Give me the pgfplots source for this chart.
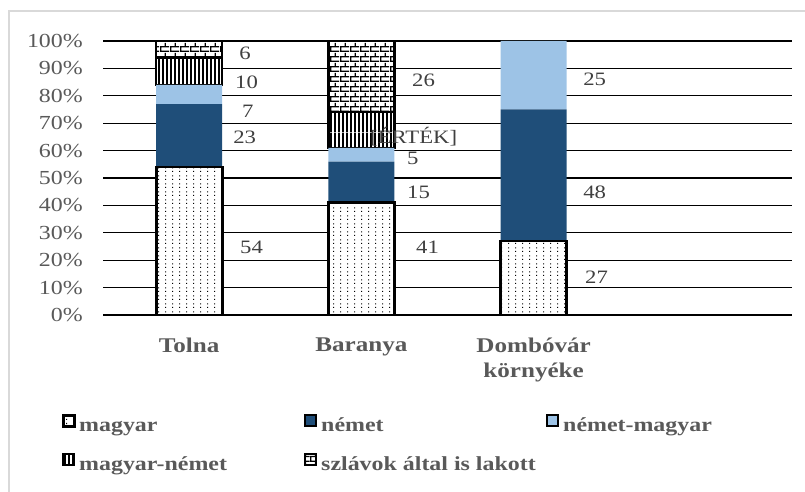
\documentclass[border=0pt]{standalone}
\usepackage{fontspec}
\setmainfont{Liberation Serif}[FakeStretch=1.2]
\usepackage{pgfplots}
\pgfplotsset{compat=1.18}
\usetikzlibrary{patterns}

\definecolor{nemet}{HTML}{1F4E79}
\definecolor{nemetmagyar}{HTML}{9DC3E6}
\definecolor{txtgray}{HTML}{595959}
\definecolor{lblgray}{HTML}{404040}
\definecolor{framegray}{HTML}{D9D9D9}

% sparse dots (magyar)
\pgfdeclarepatternformonly{mydots}{\pgfpointorigin}{\pgfpoint{6.6bp}{8bp}}{\pgfpoint{6.6bp}{8bp}}{%
  \pgfpathrectangle{\pgfpointorigin}{\pgfpoint{1.3bp}{1.3bp}}%
  \pgfpathrectangle{\pgfpoint{0bp}{4bp}}{\pgfpoint{1.3bp}{1.3bp}}\pgfusepath{fill}}
% thick vertical stripes (magyar-nemet)
\pgfdeclarepatternformonly{myvlines}{\pgfpointorigin}{\pgfpoint{4.3bp}{40bp}}{\pgfpoint{4.3bp}{40bp}}{%
  \pgfpathrectangle{\pgfpointorigin}{\pgfpoint{2.1bp}{40bp}}\pgfusepath{fill}}
% bricks (szlavok)
\pgfdeclarepatternformonly{mybricks}{\pgfpointorigin}{\pgfpoint{10bp}{10bp}}{\pgfpoint{10bp}{10bp}}{%
  \pgfpathrectangle{\pgfpointorigin}{\pgfpoint{10bp}{1.4bp}}%
  \pgfpathrectangle{\pgfpoint{0bp}{5bp}}{\pgfpoint{10bp}{1.4bp}}%
  \pgfpathrectangle{\pgfpointorigin}{\pgfpoint{1.4bp}{5bp}}%
  \pgfpathrectangle{\pgfpoint{5bp}{5bp}}{\pgfpoint{1.4bp}{5bp}}%
  \pgfusepath{fill}}

\begin{document}
\begin{tikzpicture}
\begin{axis}[
    at={(103bp,177bp)}, anchor=south west,
    scale only axis, width=689bp, height=274bp,
    ybar stacked, bar width=66bp,
    xmin=-0.5, xmax=3.5, ymin=0, ymax=100,
    xtick={0,1,2},
    xticklabels={Tolna, Baranya, {Dombóvár\\környéke}},
    xticklabel style={align=center, inner sep=0pt, anchor=north, yshift=-23bp,
        font=\fontsize{21}{25}\selectfont\bfseries, text=txtgray},
    ytick={0,10,...,100},
    yticklabel={\pgfmathprintnumber{\tick}\%},
    /pgf/number format/assume math mode=true,
    yticklabel style={anchor=east, inner sep=0pt, xshift=-20bp,
        font=\fontsize{20}{22}\selectfont, text=txtgray},
    major tick length=0pt, tick style={draw=none},
    axis line style={draw=none},
    ymajorgrids, grid style={black, line width=1.2bp},
    legend columns=3,
    legend cell align=left,
    legend image code/.code={\draw[#1, line width=2bp] (1bp,0bp) rectangle (12bp,11bp);},
    legend style={draw=none, fill=none, inner sep=0pt,
        at={(-0.0595,-0.361)}, anchor=north west, row sep=17bp,
        font=\fontsize{20}{25}\selectfont\bfseries, text=txtgray,
        nodes={inner sep=0pt, text height=15bp, text depth=5bp},
        /tikz/every odd column/.append style={column sep=4bp}},
]
\addplot[draw=black, line width=2.8bp, pattern=mydots, preaction={fill=white}]
    coordinates {(0,54) (1,41) (2,27)};
\addlegendentry{\makebox[225bp][l]{magyar}}
\addplot[draw=none, fill=nemet]
    coordinates {(0,23) (1,15) (2,48)};
\addlegendentry{\makebox[225bp][l]{német}}
\addplot[draw=none, fill=nemetmagyar]
    coordinates {(0,7) (1,5) (2,25)};
\addlegendentry{\makebox[225bp][l]{német-magyar}}
\addplot[draw=black, line width=2.5bp, pattern=myvlines, preaction={fill=white}]
    coordinates {(0,10) (1,13)};
\addlegendentry{\makebox[225bp][l]{magyar-német}}
\addplot[draw=black, line width=2.5bp, pattern=mybricks, preaction={fill=white}]
    coordinates {(0,6) (1,26)};
\addlegendentry{\makebox[225bp][l]{szlávok által is lakott}}
\end{axis}

% data labels, placed where the source chart has them
\begin{axis}[
    at={(103bp,177bp)}, anchor=south west,
    scale only axis, width=689bp, height=274bp,
    xmin=-0.5, xmax=3.5, ymin=0, ymax=100,
    hide axis, clip=false,
]
\addplot[draw=none, mark=none, nodes near coords, point meta=explicit symbolic,
    nodes near coords style={anchor=west, inner sep=0pt,
        font=\fontsize{19}{22}\selectfont, text=lblgray}]
    table[meta=lab, row sep=\\] {
    x y lab \\
    0.290 95.6 6 \\
    0.266 85.0 10 \\
    0.307 74.5 7 \\
    0.255 65.0 23 \\
    0.295 24.8 54 \\
    1.294 85.8 26 \\
    1.050 65.0 [ÉRTÉK] \\
    1.265 57.3 5 \\
    1.265 44.9 15 \\
    1.317 24.8 41 \\
    2.287 86.1 25 \\
    2.287 44.9 48 \\
    2.298 13.9 27 \\
    };
\end{axis}

\draw[framegray, line width=2bp] (9bp,0bp) -- (9bp,481bp) -- (805bp,481bp);
\pgfresetboundingbox
\useasboundingbox (0bp,0bp) rectangle (805bp,492bp);
\end{tikzpicture}
\end{document}
